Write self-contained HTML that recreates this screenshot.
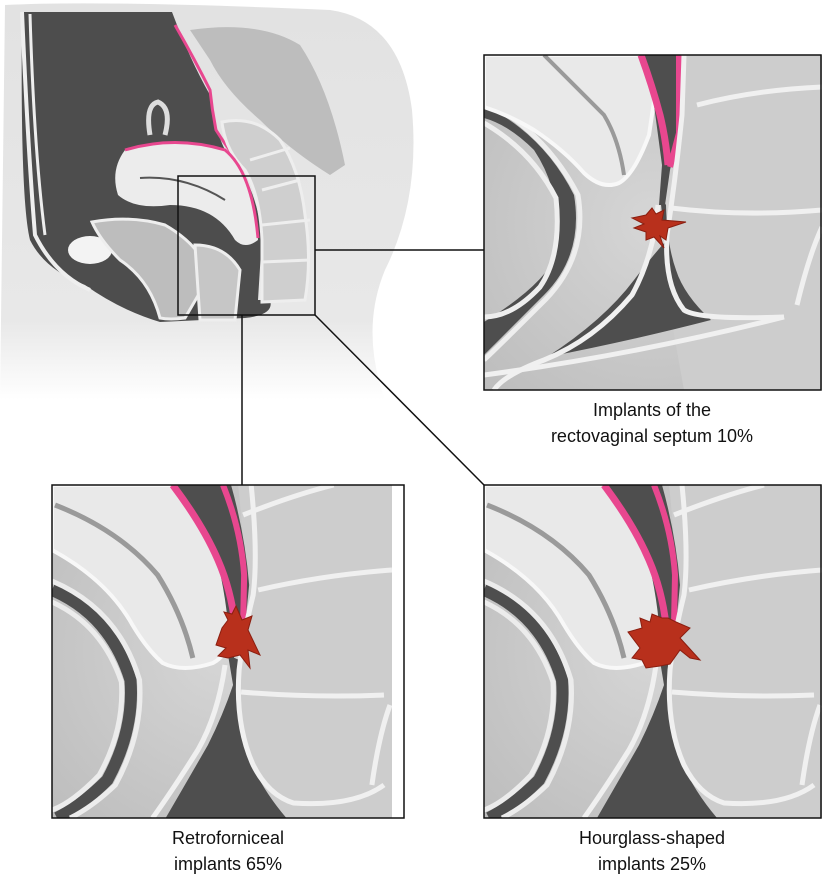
<!DOCTYPE html>
<html><head><meta charset="utf-8"><style>
html,body{margin:0;padding:0;background:#fff;}
body{width:822px;height:878px;overflow:hidden;font-family:"Liberation Sans",sans-serif;}
</style></head><body>
<svg width="822" height="878" viewBox="0 0 822 878" xmlns="http://www.w3.org/2000/svg">
<defs>
<linearGradient id="body" x1="0" y1="0" x2="0" y2="1"><stop offset="0" stop-color="#e2e2e2"/><stop offset="0.8" stop-color="#e8e8e8"/><stop offset="1" stop-color="#ffffff"/></linearGradient>
<radialGradient id="tis" cx="0.5" cy="0.5" r="0.7"><stop offset="0" stop-color="#d6d6d6"/><stop offset="1" stop-color="#bdbdbd"/></radialGradient>

<!-- Top-right panel view -->
<symbol id="pA" viewBox="0 0 338 335" preserveAspectRatio="none">
<rect width="338" height="335" fill="url(#tis)"/>
<!-- rectum area -->
<path d="M197 0 L338 0 L338 335 L200 335 Q190 280 185 250 Q180 200 185 170 Q195 120 197 0Z" fill="#cdcdcd"/>
<!-- dark band left -->
<path d="M0 50 Q60 80 90 140 Q100 200 60 240 Q20 280 0 300 L0 267 Q60 230 72 200 Q80 140 50 95 Q25 70 0 63Z" fill="#4e4e4e"/>
<path d="M0 45 Q62 78 94 140 Q104 200 62 244 Q22 284 0 305" stroke="#eee" stroke-width="5" fill="none"/>
<path d="M0 68 Q48 96 72 143 Q78 200 56 232 Q28 262 0 262" stroke="#eee" stroke-width="5" fill="none"/>
<!-- uterus -->
<path d="M0 0 L173 0 L172 33 Q168 60 165 80 Q150 120 135 128 Q118 135 100 118 Q80 95 50 75 Q25 60 0 52Z" fill="#e9e9e9" stroke="#f8f8f8" stroke-width="4"/>
<path d="M60 0 Q90 30 120 60 Q135 85 140 120" stroke="#9a9a9a" stroke-width="4" fill="none"/>
<!-- dark channel -->
<path d="M158 0 L198 0 L194 80 L186 115 L181 150 L175 150 L178 110 L170 50Z" fill="#4e4e4e"/>
<path d="M157 0 Q168 30 176 60 Q182 85 184 110" stroke="#e8478f" stroke-width="7" fill="none"/>
<path d="M195 0 L195 78 L186 112" stroke="#e8478f" stroke-width="6" fill="none"/>
<!-- lower dark -->
<path d="M176 140 L181 187 Q165 205 150 225 Q120 265 63 302 Q150 285 227 265 Q200 240 192 215 Q183 190 182 150Z" fill="#4e4e4e"/>
<!-- white walls -->
<path d="M200 0 L198 60 Q192 120 183 180 Q180 230 200 255 Q215 265 300 262" stroke="#f0f0f0" stroke-width="5" fill="none"/>
<path d="M174 150 Q170 200 148 240 Q110 285 60 305 Q20 320 10 335" stroke="#f0f0f0" stroke-width="5" fill="none"/>
<path d="M0 320 Q150 300 300 262" stroke="#f0f0f0" stroke-width="5" fill="none"/>
<path d="M213 50 Q270 35 338 32" stroke="#f0f0f0" stroke-width="5" fill="none"/>
<path d="M187 153 Q260 162 338 155" stroke="#f0f0f0" stroke-width="5" fill="none"/>
<path d="M313 250 Q325 200 338 172" stroke="#f0f0f0" stroke-width="5" fill="none"/>
</symbol>

<!-- Bottom panels view (more zoomed) -->
<symbol id="pB" viewBox="0 0 338 333" preserveAspectRatio="none">
<rect width="338" height="333" fill="url(#tis)"/>
<path d="M185 0 L338 0 L338 333 L215 333 Q195 300 188 260 Q182 210 188 180 Q198 120 185 0Z" fill="#cdcdcd"/>
<!-- dark band left -->
<path d="M0 105 Q58 130 78 195 Q82 245 55 295 Q30 320 5 333" stroke="#4e4e4e" stroke-width="12" fill="none"/>
<path d="M0 96 Q66 124 87 195 Q91 248 63 300 Q40 322 18 333" stroke="#ececec" stroke-width="5" fill="none"/>
<path d="M0 117 Q50 140 69 197 Q72 245 47 290 Q20 318 0 325" stroke="#ececec" stroke-width="5" fill="none"/>
<!-- uterus -->
<path d="M0 0 L118 0 Q145 35 160 60 Q175 90 180 125 L182 145 Q175 170 160 178 Q130 188 110 178 Q95 165 80 140 Q55 95 0 65Z" fill="#e9e9e9" stroke="#f8f8f8" stroke-width="4"/>
<path d="M3 20 Q67 45 105 90 Q130 130 140 173" stroke="#9a9a9a" stroke-width="5" fill="none"/>
<!-- dark channel -->
<path d="M118 0 L178 0 Q192 50 196 100 L192 140 L180 175 L176 150 Q172 100 160 60 Q145 30 118 0Z" fill="#4e4e4e"/>
<path d="M120 0 Q150 40 165 75 Q178 105 182 140" stroke="#e8478f" stroke-width="7" fill="none"/>
<path d="M170 0 Q188 45 191 90 L190 140" stroke="#e8478f" stroke-width="6" fill="none"/>
<!-- lower dark -->
<path d="M175 170 L180 200 Q170 230 155 260 Q135 295 113 333 L233 333 Q205 300 193 265 Q183 225 186 175Z" fill="#4e4e4e"/>
<!-- walls -->
<path d="M198 0 Q205 70 200 110 Q190 150 186 185 Q182 240 200 280 Q215 310 240 318 Q300 322 330 300" stroke="#f0f0f0" stroke-width="5" fill="none"/>
<path d="M172 180 Q165 230 145 265 Q120 305 100 333" stroke="#f0f0f0" stroke-width="5" fill="none"/>
<path d="M190 30 Q240 10 280 0" stroke="#f0f0f0" stroke-width="5" fill="none"/>
<path d="M205 105 Q270 90 338 85" stroke="#f0f0f0" stroke-width="5" fill="none"/>
<path d="M188 207 Q260 213 330 210" stroke="#f0f0f0" stroke-width="5" fill="none"/>
<path d="M318 300 Q325 250 336 220" stroke="#f0f0f0" stroke-width="5" fill="none"/>
</symbol>
</defs>

<!-- body illustration -->
<path d="M5 5 Q100 0 330 10 Q400 20 412 110 Q420 200 385 270 Q360 330 385 400 L0 400 Z" fill="url(#body)"/>
<!-- sacrum -->
<path d="M190 30 Q260 20 300 45 Q330 90 345 165 L330 175 Q290 150 260 120 Q225 90 210 60Z" fill="#bdbdbd"/>
<!-- dark cavity -->
<path d="M22 12 L172 12 Q190 60 210 95 Q215 130 225 150 Q255 180 262 235 L258 300 L270 300 Q275 315 245 318 L160 322 Q120 310 85 285 Q45 270 30 240 Q20 200 22 12Z" fill="#4d4d4d"/>
<path d="M22 12 Q28 150 35 235 Q55 275 90 290" stroke="#eee" stroke-width="4" fill="none"/>
<path d="M30 14 Q34 150 45 235" stroke="#eee" stroke-width="3" fill="none"/>
<!-- pink peritoneum -->
<path d="M175 25 Q195 60 210 90 Q212 110 216 130 Q235 160 250 175 Q262 200 262 240" stroke="#e8478f" stroke-width="3" fill="none"/>
<!-- rectum -->
<path d="M222 122 Q255 115 280 140 Q300 170 305 215 Q312 260 305 300 L262 302 L262 240 Q260 195 245 170 Q225 150 222 122Z" fill="#cfcfcf" stroke="#eee" stroke-width="3"/>
<path d="M250 160 L290 148 M262 190 L300 180 M262 225 L310 220 M262 262 L310 260" stroke="#eee" stroke-width="3"/>
<!-- uterus -->
<path d="M125 150 Q170 135 225 150 Q255 175 258 240 Q245 250 235 240 Q215 205 170 205 Q135 210 118 195 Q110 170 125 150Z" fill="#ececec"/>
<path d="M140 178 Q185 175 225 200" stroke="#555" stroke-width="2" fill="none"/>
<path d="M125 150 Q175 135 225 150 Q252 172 258 238" stroke="#e8478f" stroke-width="3" fill="none"/>
<!-- tube -->
<path d="M150 135 Q145 105 158 102 Q172 108 165 135" stroke="#ddd" stroke-width="5" fill="none"/>
<!-- bladder -->
<ellipse cx="90" cy="250" rx="22" ry="14" fill="#f3f3f3"/>
<path d="M92 222 Q130 215 165 225 Q200 245 210 275 L185 318 Q170 320 160 318 Q150 280 120 260 Q100 240 92 222Z" fill="#bdbdbd" stroke="#eee" stroke-width="3"/>
<path d="M195 245 Q225 245 240 270 L235 320 L200 320Z" fill="#c6c6c6" stroke="#eee" stroke-width="3"/>
<rect x="178" y="176" width="137" height="139" fill="none" stroke="#111" stroke-width="1.5"/>

<!-- connectors -->
<line x1="315" y1="250" x2="484" y2="250" stroke="#111" stroke-width="1.5"/>
<line x1="242" y1="315" x2="242" y2="485" stroke="#111" stroke-width="1.5"/>
<line x1="315" y1="315" x2="484" y2="485" stroke="#111" stroke-width="1.5"/>

<!-- panels -->
<use href="#pA" x="484" y="55" width="338" height="335"/>
<use href="#pB" x="52" y="485" width="340" height="333"/>
<rect x="392" y="485" width="12" height="333" fill="#fff"/>
<use href="#pB" x="484" y="485" width="338" height="333"/>
<rect x="484" y="55" width="337" height="335" fill="none" stroke="#111" stroke-width="1.5"/>
<rect x="52" y="485" width="352" height="333" fill="none" stroke="#111" stroke-width="1.5"/>
<rect x="484" y="485" width="337" height="333" fill="none" stroke="#111" stroke-width="1.5"/>

<!-- implants -->
<g fill="#b8301c" stroke="#8a1e10" stroke-width="1">
<path d="M632 218 L646 215 L652 208 L656 214 L664 210 L662 220 L686 222 L668 228 L666 240 L660 236 L664 248 L654 237 L646 240 L646 232 L634 228 L644 224Z"/>
<path d="M216 645 L222 628 L228 620 L224 612 L232 614 L236 606 L242 620 L252 616 L248 630 L260 655 L248 650 L250 668 L240 655 L228 658 L218 656 L226 648Z"/>
<path d="M628 632 L642 628 L640 618 L650 622 L652 614 L662 618 L668 618 L676 622 L690 628 L680 638 L700 660 L690 658 L680 650 L670 664 L660 666 L646 668 L642 660 L632 658 L640 648Z"/>
</g>

<!-- labels -->
<g font-size="18" fill="#111" text-anchor="middle">
<text x="652" y="416">Implants of the</text>
<text x="652" y="442">rectovaginal septum 10%</text>
<text x="228" y="844">Retroforniceal</text>
<text x="228" y="870">implants 65%</text>
<text x="652" y="844">Hourglass-shaped</text>
<text x="652" y="870">implants 25%</text>
</g>
</svg>
</body></html>
